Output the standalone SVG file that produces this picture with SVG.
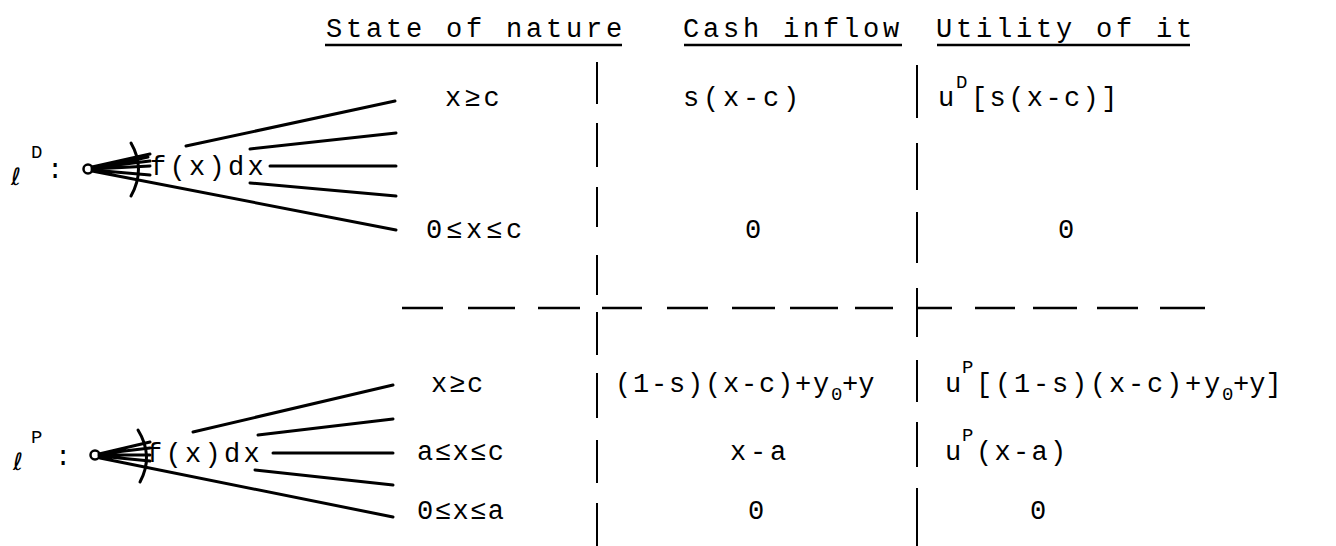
<svg xmlns="http://www.w3.org/2000/svg" width="1336" height="546" viewBox="0 0 1336 546">
<style>
.t{font-family:"Liberation Mono",monospace;font-size:27px;fill:#000;letter-spacing:3px}
.h{letter-spacing:3.8px}
.b{letter-spacing:1.8px}
.n{letter-spacing:0}
.s{font-size:19px;letter-spacing:0}
.l{font-family:"DejaVu Sans",sans-serif;font-size:24px;fill:#000}
.ul{stroke:#000;stroke-width:2.5;fill:none}
.vl{stroke:#000;stroke-width:2;fill:none}
.ds{stroke:#000;stroke-width:2.5;fill:none}
.tr{stroke:#000;stroke-width:3;fill:none;stroke-linecap:round}
</style>
<rect width="1336" height="546" fill="#fff"/>
<g id="header">
<text class="t h" x="326" y="37">State of nature</text>
<text class="t h" x="683" y="37">Cash inflow</text>
<text class="t h" x="936" y="37">Utility of it</text>
<path class="ul" d="M325 45H622M684 45H902M937 45H1190"/>
</g>
<g id="table-lines">
<path class="vl" d="M597 62V104M597 123V167M597 187V227M597 255V295M597 312V355M597 373V418M597 440V483M597 503V546"/>
<path class="vl" d="M917 65V118M917 143V190M917 212V263M917 288V337M917 360V402M917 422V467M917 488V546"/>
<path class="ds" d="M402 308H443M468 308H515M538 308H580M602 308H642M667 308H708M732 308H775M790 308H838M855 308H893M918 308H952M975 308H1015M1033 308H1077M1097 308H1138M1160 308H1205"/>
</g>
<g id="lottery-D">
<text class="l" x="11" y="185">ℓ</text>
<text class="t s" x="31" y="158">D</text>
<text class="t" x="47" y="178">:</text>
<circle cx="88" cy="169" r="4.5" fill="#fff" stroke="#000" stroke-width="2.5"/>
<text class="t" x="150" y="175" style="letter-spacing:3.3px">f(x)dx</text>
<path class="tr" d="M131 143Q146 169 131 196"/>
</g>
<g id="lottery-P">
<text class="l" x="13" y="470">ℓ</text>
<text class="t s" x="31" y="443">P</text>
<text class="t" x="55" y="465">:</text>
<circle cx="95" cy="455" r="4.5" fill="#fff" stroke="#000" stroke-width="2.5"/>
<text class="t" x="146" y="462" style="letter-spacing:3.3px">f(x)dx</text>
<path class="tr" d="M138 430Q154 456 140 482"/>
</g>
<g id="connectors">
<path class="tr" d="M92 167L150 154M186 146L395 101M92 168L150 161M250 149L396 133M93 169L150 166M270 166L396 166M92 170L150 175M250 183L396 196M92 171L396 230M93 169L148 157"/>
<path class="tr" d="M99 454L150 442M193 432L393 385M99 454L150 448M258 435L393 419M99 455L150 455M273 453L393 453M99 456L150 461M255 470L393 485M100 458L393 517"/>
</g>
<g id="row-D1">
<text class="t" x="445" y="106">x≥c</text>
<text class="t h" x="683" y="106">s(x-c)</text>
<text class="t" x="938" y="106">u</text>
<text class="t s" x="956" y="88">D</text>
<text class="t" x="971" y="106" style="letter-spacing:2.4px">[s(x-c)]</text>
</g>
<g id="row-D2">
<text class="t h" x="426" y="238">0≤x≤c</text>
<text class="t" x="745" y="238">0</text>
<text class="t" x="1058" y="238">0</text>
</g>
<g id="row-P1">
<text class="t b" x="431" y="392">x≥c</text>
<text class="t b" x="615" y="392">(1-s)(x-c)+y</text>
<text class="t s" x="831" y="400">0</text>
<text class="t n" x="842" y="392">+y</text>
<text class="t" x="945" y="392">u</text>
<text class="t s" x="962" y="373">P</text>
<text class="t" x="976" y="392" style="letter-spacing:2.8px">[(1-s)(x-c)+y</text>
<text class="t s" x="1222" y="400">0</text>
<text class="t n" x="1233" y="392">+y]</text>
</g>
<g id="row-P2">
<text class="t" x="417" y="460" style="letter-spacing:1.5px">a≤x≤c</text>
<text class="t h" x="730" y="460">x-a</text>
<text class="t" x="945" y="460">u</text>
<text class="t s" x="962" y="441">P</text>
<text class="t" x="976" y="460" style="letter-spacing:2.3px">(x-a)</text>
</g>
<g id="row-P3">
<text class="t" x="417" y="519" style="letter-spacing:1.5px">0≤x≤a</text>
<text class="t" x="748" y="519">0</text>
<text class="t" x="1030" y="519">0</text>
</g>
</svg>
